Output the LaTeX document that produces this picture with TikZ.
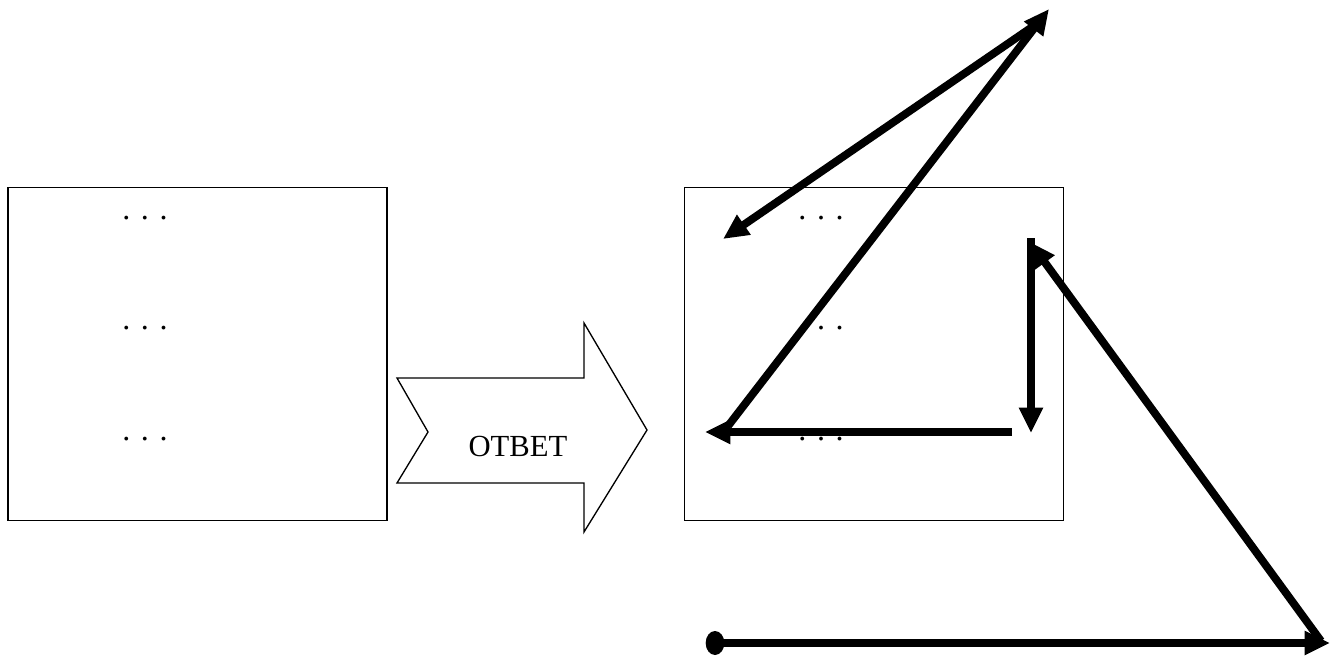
\documentclass[tikz,border=0pt]{standalone}
\usepackage{fontspec}
\setmainfont{Liberation Serif}
\usetikzlibrary{arrows.meta}
\begin{document}
\begin{tikzpicture}[x=0.75pt,y=-0.75pt,
  box/.style={draw,line width=1.1pt,minimum width=284pt,minimum height=250pt,inner sep=0pt},
  dots/.style={font=\fontsize{24}{24}\selectfont,anchor=base,inner sep=0pt},
  thick arrow/.style={line width=5.9pt,-{Triangle[length=19pt,width=17pt]}}]
\useasboundingbox (0,0) rectangle (1330,657);
% boxes
\node[box] (L) at (197.5,354) {};
\node[box] (R) at (874,354) {};
\foreach \y [count=\i] in {219,329,440}{
  \node[dots] (ld\i) at (145,\y) {.\,\,.\,\,.};
  \node[dots] (rd\i) at (821,\y) {.\,\,.\,\,.};
}
% block arrow
\draw[line width=1pt,line join=miter] (397,378) -- (584,378) -- (584,323) -- (647,430) -- (584,532) -- (584,483) -- (397,483) -- (428,432) -- cycle;
\node[font=\fontsize{23}{23}\selectfont] (ans) at (518,446) {ОТВЕТ};
% coordinates
\coordinate (t1) at (1049,9);
\coordinate (t0) at (1038,23);
\coordinate (a1) at (723,239);
\coordinate (c1) at (728,426);
\coordinate (h1) at (1012,432);
\coordinate (h2) at (705,432);
\coordinate (v1) at (1031,238);
\coordinate (v2) at (1031,433);
\coordinate (d1) at (1321,641);
\coordinate (d2) at (1030,242);
\coordinate (b1) at (715,643);
\coordinate (b2) at (1330,643);
% thick arrows
\draw[thick arrow] (t0) -- (a1);
\draw[thick arrow] (c1) -- (t1);
\draw[thick arrow] (h1) -- (h2);
\draw[thick arrow] (v1) -- (v2);
\draw[thick arrow] (d1) -- (d2);
\draw[thick arrow] (b1) -- (b2);
\fill (b1) ellipse [x radius=7pt, y radius=9pt];
\end{tikzpicture}
\end{document}
